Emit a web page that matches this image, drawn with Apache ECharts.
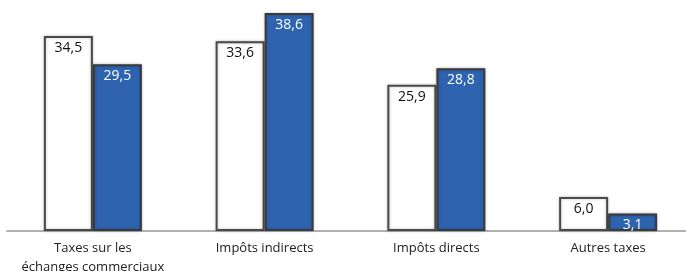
<!DOCTYPE html>
<html>
<head>
<meta charset="utf-8">
<script src="https://cdn.jsdelivr.net/npm/echarts@6/dist/echarts.min.js"></script>
<style>
  html, body { margin: 0; padding: 0; background: #fff; }
  #main { width: 686px; height: 271px; }
</style>
</head>
<body>
<div id="main"></div>
<script>
var categories = ["Taxes sur les\néchanges commerciaux", "Impôts indirects", "Impôts directs", "Autres taxes"];
var seriesWhite = [34.5, 33.6, 25.9, 6.0];
var seriesBlue = [29.5, 38.6, 28.8, 3.1];

var chartDom = document.getElementById("main");
var myChart = echarts.init(chartDom);
var option;

function fmt(p) {
  return p.value.toFixed(1).replace(".", ",");
}

option = {
  animation: false,
  grid: {
    left: 7,
    width: 687,
    top: 5,
    height: 226,
    containLabel: false,
    outerBoundsMode: "none",
  },
  xAxis: {
    type: "category",
    data: categories,
    axisLine: { lineStyle: { color: "#b0b0b0", width: 2 } },
    axisTick: { show: false },
    axisLabel: {
      color: "#222",
      fontSize: 13,
      fontFamily: "Open Sans",
      lineHeight: 19,
      margin: 8,
      interval: 0,
    },
  },
  yAxis: {
    type: "value",
    min: 0,
    max: 40,
    show: false,
  },
  series: [
    {
      name: "white",
      type: "bar",
      data: seriesWhite,
      barWidth: 49,
      barGap: "0%",
      itemStyle: {
        color: "#ffffff",
        borderColor: "#4a4a4a",
        borderWidth: 2,
        shadowColor: "rgba(0,0,0,0.25)",
        shadowBlur: 3,
      },
      label: {
        show: true,
        position: "insideTop",
        distance: 5,
        color: "#111",
        fontSize: 14,
        fontFamily: "Open Sans",
        formatter: fmt,
      },
    },
    {
      name: "blue",
      type: "bar",
      data: seriesBlue,
      barWidth: 49,
      itemStyle: {
        color: "#2e63b0",
        borderColor: "#3a3a3a",
        borderWidth: 2,
        shadowColor: "rgba(0,0,0,0.25)",
        shadowBlur: 3,
      },
      label: {
        show: true,
        position: "insideTop",
        distance: 5,
        color: "#ffffff",
        fontSize: 14,
        fontFamily: "Open Sans",
        formatter: fmt,
      },
    },
  ],
};

option && myChart.setOption(option);
</script>
</body>
</html>
